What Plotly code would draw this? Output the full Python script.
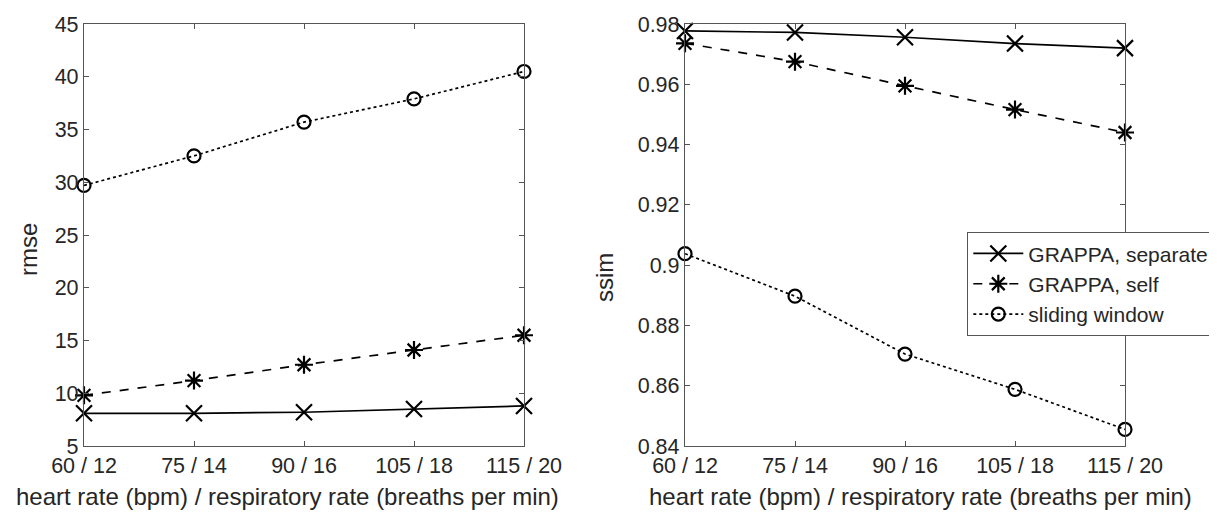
import plotly.graph_objects as go

categories = ["60 / 12", "75 / 14", "90 / 16", "105 / 18", "115 / 20"]
series_names = ["GRAPPA, separate", "GRAPPA, self", "sliding window"]
x_title = "heart rate (bpm) / respiratory rate (breaths per min)"
y_titles = ["rmse", "ssim"]

rmse_separate = [8.1, 8.1, 8.2, 8.5, 8.8]
rmse_self = [9.8, 11.2, 12.7, 14.1, 15.5]
rmse_sliding = [29.7, 32.5, 35.7, 37.9, 40.5]

ssim_separate = [0.9777, 0.9772, 0.9756, 0.9735, 0.9720]
ssim_self = [0.9736, 0.9675, 0.9595, 0.9516, 0.9440]
ssim_sliding = [0.9038, 0.8897, 0.8705, 0.8588, 0.8455]

rmse_ticks = [5, 10, 15, 20, 25, 30, 35, 40, 45]
ssim_ticks = [0.84, 0.86, 0.88, 0.90, 0.92, 0.94, 0.96, 0.98]
ssim_ticktext = ["0.84", "0.86", "0.88", "0.9", "0.92", "0.94", "0.96", "0.98"]

xpos = list(range(len(categories)))

styles = [
    dict(dash="solid", symbol="x-thin-open", size=16),
    dict(dash="dash", symbol="asterisk-open", size=15),
    dict(dash="dot", symbol="circle-open", size=13),
]

FONT = "Liberation Sans, Arial, sans-serif"
TXT = "#262626"
AX = "#555555"

fig = go.Figure()

for i, (vals, st) in enumerate(zip([rmse_separate, rmse_self, rmse_sliding], styles)):
    fig.add_trace(go.Scatter(
        x=xpos, y=vals, mode="lines+markers", name=series_names[i],
        line=dict(color="black", width=1.7, dash=st["dash"]),
        marker=dict(symbol=st["symbol"], size=st["size"], color="black",
                    line=dict(color="black", width=2.2)),
        showlegend=False, cliponaxis=False, xaxis="x", yaxis="y"))

for i, (vals, st) in enumerate(zip([ssim_separate, ssim_self, ssim_sliding], styles)):
    fig.add_trace(go.Scatter(
        x=xpos, y=vals, mode="lines+markers", name=series_names[i],
        line=dict(color="black", width=1.7, dash=st["dash"]),
        marker=dict(symbol=st["symbol"], size=st["size"], color="black",
                    line=dict(color="black", width=2.2)),
        showlegend=True, cliponaxis=False, xaxis="x2", yaxis="y2"))

W, H = 1217, 514
T, B = 16, 76
PH = H - T - B


def px_x(p):
    return p / W


def px_y(p):
    return 1 - (p - T) / PH


axis_common = dict(
    showline=True, linecolor=AX, linewidth=1.3, mirror="ticks",
    ticks="inside", ticklen=5, tickcolor=AX, showgrid=False, zeroline=False,
    automargin=False,
    tickfont=dict(family=FONT, size=21.5, color=TXT),
)

xa = dict(axis_common, tickvals=xpos, ticktext=categories, range=[0, 4])

title_font = dict(family=FONT, size=24, color=TXT)
annotations = [
    dict(text=x_title, x=px_x(279), y=px_y(488), xref="paper", yref="paper",
         xanchor="center", yanchor="middle", showarrow=False, font=title_font),
    dict(text=x_title, x=px_x(912), y=px_y(488), xref="paper", yref="paper",
         xanchor="center", yanchor="middle", showarrow=False, font=title_font),
    dict(text=y_titles[0], x=px_x(20), y=px_y(242), xref="paper", yref="paper",
         xanchor="center", yanchor="middle", showarrow=False, textangle=-90, font=title_font),
    dict(text=y_titles[1], x=px_x(596), y=px_y(270), xref="paper", yref="paper",
         xanchor="center", yanchor="middle", showarrow=False, textangle=-90, font=title_font),
]

fig.update_layout(
    width=W, height=H,
    margin=dict(l=0, r=0, t=T, b=B),
    paper_bgcolor="white", plot_bgcolor="white",
    xaxis=dict(xa, domain=[76 / W, 516 / W], anchor="y"),
    xaxis2=dict(xa, domain=[677 / W, 1117 / W], anchor="y2"),
    yaxis=dict(axis_common, range=[5, 45], tickvals=rmse_ticks, anchor="x"),
    yaxis2=dict(axis_common, range=[0.84, 0.98], tickvals=ssim_ticks, ticktext=ssim_ticktext,
                anchor="x2"),
    annotations=annotations,
    legend=dict(x=959 / W, y=px_y(276), xanchor="left", yanchor="middle",
                bgcolor="white", bordercolor=AX, borderwidth=1.3,
                font=dict(family=FONT, size=21, color=TXT),
                tracegroupgap=0, itemwidth=50),
)

fig.write_html("out.html")
